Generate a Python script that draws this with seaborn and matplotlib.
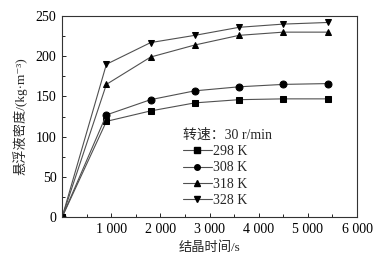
import numpy as np
import pandas as pd
import matplotlib
matplotlib.use("Agg")
import matplotlib.pyplot as plt
import seaborn as sns
from matplotlib.ticker import MultipleLocator, FuncFormatter
from matplotlib.lines import Line2D

# datos
tiempo = [0, 900, 1800, 2700, 3600, 4500, 5400]
t298 = [0, 119, 132, 142, 146, 147, 147]
t308 = [0, 127, 146, 157, 162, 165, 166]
t318 = [0, 165, 199, 214, 226, 230, 230]
t328 = [0, 190, 217, 226, 236, 240, 242]
etiquetas = ["298 K", "308 K", "318 K", "328 K"]
marcadores = ["s", "o", "^", "v"]

sns.set_style("white")
plt.rcParams["font.family"] = ["Liberation Serif", "Noto Sans CJK SC", "DejaVu Serif"]
plt.rcParams["axes.unicode_minus"] = False

df = pd.DataFrame({
    "t": tiempo * 4,
    "rho": t298 + t308 + t318 + t328,
    "serie": sum([[e] * len(tiempo) for e in etiquetas], []),
})

fig = plt.figure(figsize=(3.79, 2.59), dpi=100)
ax = fig.add_axes([0.164, 0.162, 0.778, 0.776])

sns.lineplot(data=df, x="t", y="rho", hue="serie", style="serie",
             palette=["#505050"] * 4, markers=dict(zip(etiquetas, marcadores)),
             dashes=False, linewidth=0.8, markersize=5,
             markerfacecolor="black", markeredgecolor="black",
             legend=False, ax=ax)

ax.set_xlim(0, 6000)
ax.set_ylim(0, 250)
ax.xaxis.set_major_locator(MultipleLocator(1000))
ax.xaxis.set_minor_locator(MultipleLocator(500))
ax.yaxis.set_major_locator(MultipleLocator(50))
ax.yaxis.set_minor_locator(MultipleLocator(25))
ax.xaxis.set_major_formatter(FuncFormatter(
    lambda v, p: "" if v == 0 else f"{int(v):,}".replace(",", " ")))
ax.tick_params(which="both", direction="in", bottom=True, left=True,
               top=False, right=False, labelsize=10, colors="black", pad=4)
ax.tick_params(which="major", length=3, width=0.6)
ax.tick_params(which="minor", length=2, width=0.6)
for s in ax.spines.values():
    s.set_color("#333333")
    s.set_linewidth(0.8)

ax.set_xlabel("结晶时间/s", fontsize=9.5, labelpad=4)
ax.set_ylabel("悬浮液密度/(kg·m⁻³)", fontsize=9.5, labelpad=6)

handles = [Line2D([], [], color="#505050", lw=0.8, marker=m,
                  markerfacecolor="black", markeredgecolor="black", markersize=4)
           for m in marcadores]
leg = ax.legend(handles, etiquetas, title="转速：30 r/min", frameon=False,
                fontsize=10, title_fontsize=10, loc="upper left",
                bbox_to_anchor=(0.385, 0.475), handlelength=2.1,
                handletextpad=0.1, labelspacing=0.24, borderpad=0)
leg._legend_box.align = "left"

fig.savefig("out.png", dpi=100)
